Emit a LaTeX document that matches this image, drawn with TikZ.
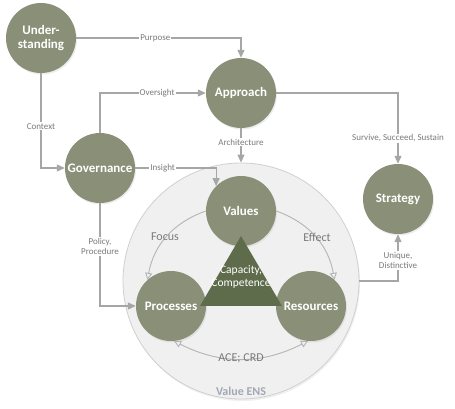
\documentclass[tikz,border=0pt]{standalone}
\usepackage{fontspec}
\setmainfont{Carlito}
\usetikzlibrary{arrows.meta, positioning, calc, shapes, shadows}
\definecolor{sagegreen}{HTML}{8A9078}
\definecolor{darkolive}{HTML}{5F6C4C}
\definecolor{linegray}{HTML}{A6A6A6}
\definecolor{innergray}{HTML}{B4B4B4}
\definecolor{labelgray}{HTML}{7A7A7A}
\definecolor{ensfill}{HTML}{F0F0F0}
\definecolor{ensborder}{HTML}{D0D0D0}
\definecolor{enstext}{HTML}{A3A9B3}
\tikzset{
  >=Stealth,
  bignode/.style={circle, minimum size=70pt, inner sep=0pt, fill=sagegreen, text=white, font=\fontsize{13}{14}\selectfont\bfseries, align=center, drop shadow={opacity=0.15, shadow xshift=1pt, shadow yshift=-1.5pt}},
  flowline/.style={-{Triangle[length=8pt, width=7pt]}, line width=1.1pt, linegray},
  innerline/.style={-{Triangle[open, length=7pt, width=7pt]}, line width=0.9pt, innergray},
  edgelabel/.style={font=\fontsize{9}{10}\selectfont, text=labelgray, fill=white, inner sep=1pt, align=center},
  softlabel/.style={font=\fontsize{12}{13}\selectfont, text=labelgray}
}

\begin{document}
\begin{tikzpicture}[x=1pt, y=1pt]
    \useasboundingbox (0,0) rectangle (455,409);

    % --- VALUE ENS (BACKGROUND) ---
    \node[circle, minimum size=236pt, inner sep=0pt, fill=ensfill, draw=ensborder, line width=0.8pt, drop shadow={opacity=0.12, shadow xshift=1pt, shadow yshift=-2pt}] (ens) at (241,128) {};
    \node[font=\fontsize{12}{13}\selectfont\bfseries, text=enstext] (enslabel) at (241,18) {Value ENS};

    % --- MAIN CIRCLES ---
    \node[bignode] (und) at (41,371) {Under-\\standing};
    \node[bignode] (app) at (241,316) {Approach};
    \node[bignode] (gov) at (100,241) {Governance};
    \node[bignode] (strat) at (398,210) {Strategy};
    \node[bignode] (val) at (241,198) {Values};
    \node[bignode] (proc) at (171,103) {Processes};
    \node[bignode] (res) at (311,103) {Resources};

    % Triangle in the middle
    \fill[darkolive] (241,173) -- (200,103) -- (282,103) -- cycle;
    \node[font=\fontsize{11.5}{13}\selectfont, text=white, align=center] (cap) at (241,132) {Capacity,\\Competence};

    % --- CONNECTORS ---
    \draw[flowline] (und.east) -| (app.north) node[edgelabel, pos=0.24] {Purpose};
    \draw[flowline] (und.south) |- (gov.west) node[edgelabel, pos=0.28] {Context};
    \draw[flowline] (gov.north) |- (app.west) node[edgelabel, pos=0.77] {Oversight};
    \draw[flowline] (gov.east) -| (val.135) node[edgelabel, pos=0.17] {Insight};
    \draw[flowline] (app.south) -- (ens.north) node[edgelabel, pos=0.4] {Architecture};
    \draw[flowline] (app.east) -| (strat.north) node[edgelabel, pos=0.82] {Survive, Succeed, Sustain};
    \draw[flowline] (ens.east) -| (strat.south) node[edgelabel, pos=0.72] {Unique,\\Distinctive};
    \draw[flowline] (gov.south) |- (proc.west) node[edgelabel, pos=0.21] {Policy,\\Procedure};

    % --- INNER CYCLE ---
    \draw[innerline] (val.west) to[bend right=30] (proc.132);
    \draw[innerline] (val.east) to[bend left=30] (res.48);
    \draw[innerline, {Triangle[open, length=7pt, width=7pt]}-{Triangle[open, length=7pt, width=7pt]}] (proc.275) to[bend right=27] node[softlabel, midway] {ACE; CRD} (res.265);
    \node[softlabel] (focus) at (165,172) {Focus};
    \node[softlabel] (effect) at (317,172) {Effect};
\end{tikzpicture}
\end{document}
